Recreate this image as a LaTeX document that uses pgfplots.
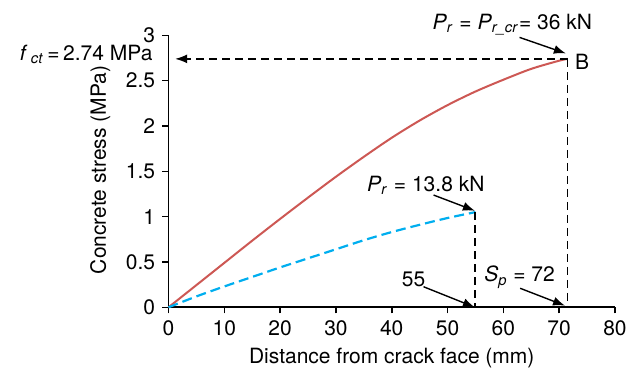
\documentclass[border=0pt]{standalone}
\usepackage{fontspec}
\setmainfont{TeX Gyre Heros}
\usepackage{pgfplots}
\pgfplotsset{compat=1.18}
\usetikzlibrary{arrows.meta}
\definecolor{redc}{RGB}{205,88,84}
\definecolor{bluec}{RGB}{0,174,239}
\begin{document}
\fontsize{10.5}{12.6}\selectfont
\begin{tikzpicture}
\path (-84.25pt,-34.35pt) rectangle (234.25pt,153.65pt);
\begin{axis}[
 scale only axis, width=223.25pt, height=136pt,
 xmin=0, xmax=80, ymin=0, ymax=3,
 axis lines=left, axis line style={-, line width=0.9pt, black},
 xtick={0,10,...,80}, ytick={0,0.5,1,1.5,2,2.5,3},
 tick align=outside, major tick length=3pt, tick style={line width=0.8pt, black},
 /pgf/number format/assume math mode=true,
 ticklabel style={font=\fontsize{10.5}{12.6}\selectfont},
 xlabel={Distance from crack face (mm)},
 ylabel={Concrete stress (MPa)},
 x label style={at={(axis description cs:0.5,-0.185)}, anchor=center},
 y label style={at={(axis description cs:-0.153,0.505)}, anchor=center, rotate=0},
 clip=false,
]
\addplot[redc, line width=1pt, smooth] coordinates {
(0,0) (5,0.245) (10,0.49) (15,0.735) (20,0.975) (25,1.21) (30,1.44) (35,1.66) (40,1.87) (45,2.06) (50,2.23) (55,2.38) (60,2.51) (65,2.63) (70,2.72) (71.5,2.74)};
\addplot[bluec, line width=1.1pt, dash pattern=on 5pt off 2.5pt, smooth] coordinates {
(0,0) (5,0.12) (10,0.23) (15,0.335) (20,0.44) (25,0.54) (30,0.64) (35,0.74) (40,0.83) (45,0.91) (50,0.985) (55,1.05)};
% guide lines
\addplot[black, line width=0.7pt, dash pattern=on 4pt off 2.5pt, -{Latex[length=6pt,width=4.5pt]}] coordinates {(71.5,2.74) (1.2,2.74)};
\addplot[black, line width=0.7pt, dash pattern=on 4pt off 2.5pt] coordinates {(71.5,2.74) (71.5,0)};
\addplot[black, line width=0.7pt, dash pattern=on 4pt off 2.5pt] coordinates {(54.9,1.05) (54.9,0)};
% arrows
\addplot[black, line width=0.7pt, -{Latex[length=6pt,width=4.5pt]}] coordinates {(62.9,2.977) (71.2,2.80)};
\addplot[black, line width=0.7pt, -{Latex[length=6pt,width=4.5pt]}] coordinates {(47.5,1.238) (54.9,1.065)};
\addplot[black, line width=0.7pt, -{Latex[length=6pt,width=4.5pt]}] coordinates {(45.7,0.227) (54.9,0.0)};
\addplot[black, line width=0.7pt, -{Latex[length=6pt,width=4.5pt]}] coordinates {(63.0,0.21) (71.05,0.018)};
% labels
\node[anchor=base east, inner sep=0pt] at (axis cs:-2.8,2.727) {\textit{f}\,\textsubscript{\textit{ct}}\,=\,2.74 MPa};
\node[anchor=base, inner sep=0pt] at (axis cs:61.6,3.065) {\textit{P}\textsubscript{\textit{r}} = \textit{P}\textsubscript{\textit{r\_cr}}= 36 kN};
\node[anchor=base west, inner sep=0pt] at (axis cs:72.8,2.624) {B};
\node[anchor=base, inner sep=0pt] at (axis cs:46.1,1.275) {\textit{P}\textsubscript{\textit{r}} = 13.8 kN};
\node[anchor=base, inner sep=0pt] at (axis cs:43.9,0.235) {55};
\node[anchor=base, inner sep=0pt] at (axis cs:62.9,0.282) {\textit{S}\textsubscript{\textit{p}} = 72};
\end{axis}
\end{tikzpicture}
\end{document}
